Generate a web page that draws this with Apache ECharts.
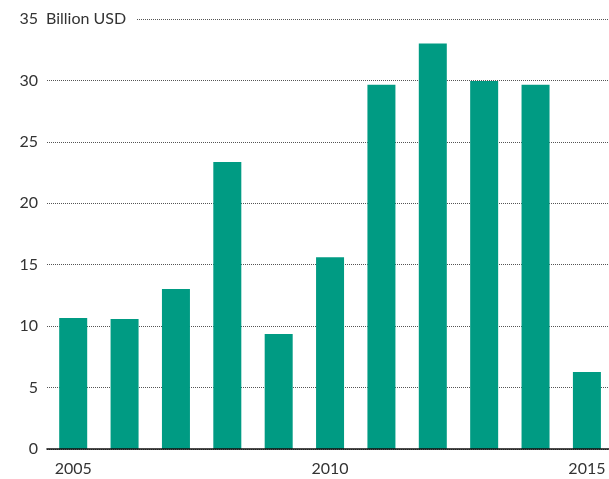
<!DOCTYPE html>
<html>
<head>
<meta charset="utf-8">
<script src="https://cdn.jsdelivr.net/npm/echarts@6/dist/echarts.min.js"></script>
<style>html,body{margin:0;padding:0;background:#fff}#c{width:609px;height:479px}</style>
</head>
<body>
<div id="c"></div>
<script>
const years = [2005, 2006, 2007, 2008, 2009, 2010, 2011, 2012, 2013, 2014, 2015];
const values = [10.66, 10.58, 13.02, 23.37, 9.36, 15.6, 29.65, 33.0, 29.95, 29.65, 6.27];
const xTickLabels = [2005, 2010, 2015];
const yTicks = [0, 5, 10, 15, 20, 25, 30, 35];
const unitLabel = 'Billion USD';

const FONT = 'Lato, "Open Sans", sans-serif';
const chart = echarts.init(document.getElementById('c'), null, {renderer: 'canvas'});
chart.setOption({
  animation: false,
  backgroundColor: '#fff',
  grid: {left: 47, right: 0, top: 19, height: 430, containLabel: false},
  xAxis: {
    type: 'value',
    min: 2004.49,
    max: 2015.43,
    splitLine: {show: false},
    axisTick: {show: false},
    axisLine: {show: true, onZero: true, lineStyle: {color: '#111', width: 1.6}},
    axisLabel: {
      customValues: xTickLabels,
      formatter: v => String(v),
      color: '#333', fontSize: 16, fontFamily: FONT, margin: 12
    },
    z: 10
  },
  yAxis: {
    type: 'value',
    min: yTicks[0],
    max: yTicks[yTicks.length - 1],
    interval: 5,
    axisLine: {show: false},
    axisTick: {show: false},
    axisLabel: {color: '#333', fontSize: 16, fontFamily: FONT, margin: 9},
    splitLine: {show: true, lineStyle: {color: '#555', width: 1, type: [1, 1]}}
  },
  graphic: [{
    type: 'text',
    x: 46, y: 19,
    z: 100,
    style: {
      text: unitLabel,
      font: '16px ' + FONT,
      fill: '#333',
      verticalAlign: 'middle',
      backgroundColor: '#fff',
      padding: [3, 10, 3, 0]
    }
  }],
  series: [{
    type: 'bar',
    barWidth: 28,
    itemStyle: {color: '#009b83'},
    data: years.map((y, i) => [y, values[i]])
  }]
});
</script>
</body>
</html>
